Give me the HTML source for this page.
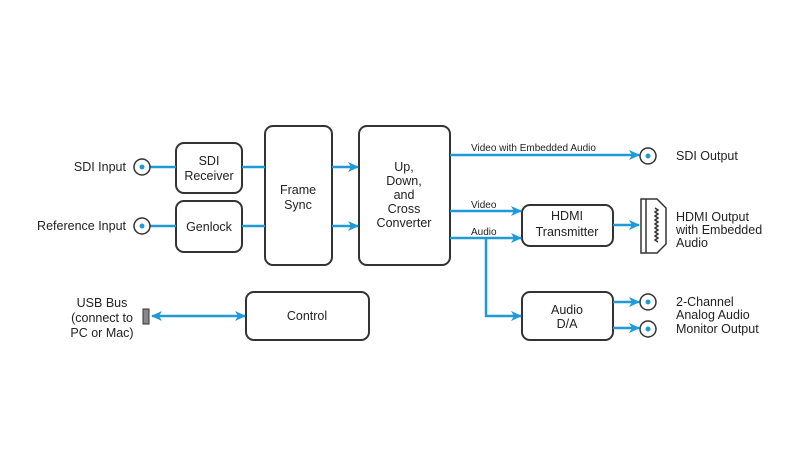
<!DOCTYPE html>
<html><head><style>body{margin:0;background:#fff}svg{display:block}text{font-family:"Liberation Sans",Arial,sans-serif;fill:#222}</style></head><body>
<svg width="800" height="450" viewBox="0 0 800 450">
<defs><marker id="a" markerWidth="11" markerHeight="10" refX="10" refY="5" orient="auto" markerUnits="userSpaceOnUse"><path d="M0,0 L11,5 L0,10 L3,5Z" fill="#1f9ad6"/></marker>
<marker id="b" markerWidth="11" markerHeight="10" refX="1" refY="5" orient="auto" markerUnits="userSpaceOnUse"><path d="M11,0 L0,5 L11,10 L8,5Z" fill="#1f9ad6"/></marker></defs>
<g fill="none" stroke="#333" stroke-width="2">
<rect x="176" y="143" width="66" height="50" rx="8"/>
<rect x="176" y="201" width="66" height="51" rx="8"/>
<rect x="265" y="126" width="67" height="139" rx="8"/>
<rect x="359" y="126" width="91" height="139" rx="8"/>
<rect x="246" y="292" width="123" height="48" rx="8"/>
<rect x="522" y="205" width="91" height="41" rx="8"/>
<rect x="522" y="292" width="91" height="48" rx="8"/>
</g>
<g stroke="#1f9ad6" stroke-width="2.5" fill="none">
<line x1="150" y1="167" x2="176" y2="167"/><line x1="242" y1="167" x2="265" y2="167"/>
<line x1="150" y1="226" x2="176" y2="226"/><line x1="242" y1="226" x2="265" y2="226"/>
<line x1="332" y1="167" x2="358" y2="167" marker-end="url(#a)"/>
<line x1="332" y1="226" x2="358" y2="226" marker-end="url(#a)"/>
<line x1="450" y1="155" x2="639" y2="155" marker-end="url(#a)"/>
<line x1="450" y1="211" x2="521" y2="211" marker-end="url(#a)"/>
<line x1="450" y1="238" x2="521" y2="238" marker-end="url(#a)"/>
<polyline points="486,238 486,316 521,316" marker-end="url(#a)"/>
<line x1="613" y1="225" x2="639" y2="225" marker-end="url(#a)"/>
<line x1="613" y1="302" x2="639" y2="302" marker-end="url(#a)"/>
<line x1="613" y1="328" x2="639" y2="328" marker-end="url(#a)"/>
<line x1="152" y1="316" x2="245" y2="316" marker-start="url(#b)" marker-end="url(#a)"/>
</g>
<g stroke="#333" stroke-width="1.5" fill="#fff">
<circle cx="142" cy="167" r="8"/><circle cx="142" cy="226" r="8"/>
<circle cx="648" cy="156" r="8"/><circle cx="648" cy="302" r="8"/><circle cx="648" cy="329" r="8"/>
</g>
<g fill="#1f9ad6"><circle cx="142" cy="167" r="2.5"/><circle cx="142" cy="226" r="2.5"/><circle cx="648" cy="156" r="2.5"/><circle cx="648" cy="302" r="2.5"/><circle cx="648" cy="329" r="2.5"/></g>
<rect x="143" y="309" width="6" height="15" fill="#888" stroke="#333" stroke-width="1"/>
<g fill="none" stroke="#333" stroke-width="1.5">
<path d="M641,199 L657,199 L666,208 L666,244 L657,253 L641,253 Z"/><line x1="646" y1="199" x2="646" y2="253"/>
<path d="M655,208 l3,2 l-3,2 l3,2 l-3,2 l3,2 l-3,2 l3,2 l-3,2 l3,2 l-3,2 l3,2 l-3,2 l3,2 l-3,2 l3,2 l-3,2 l3,2"/>
</g>
<g font-size="12.5" text-anchor="middle">
<text x="209" y="165">SDI</text><text x="209" y="180">Receiver</text>
<text x="209" y="231">Genlock</text>
<text x="298" y="194">Frame</text><text x="298" y="209">Sync</text>
<text x="404" y="171">Up,</text><text x="404" y="185">Down,</text><text x="404" y="199">and</text><text x="404" y="213">Cross</text><text x="404" y="227">Converter</text>
<text x="307" y="320">Control</text>
<text x="567" y="220">HDMI</text><text x="567" y="236">Transmitter</text>
<text x="567" y="314">Audio</text><text x="567" y="328">D/A</text>
<text x="102" y="307">USB Bus</text><text x="102" y="322">(connect to</text><text x="102" y="337">PC or Mac)</text>
</g>
<g font-size="12.5" text-anchor="end"><text x="126" y="171">SDI Input</text><text x="126" y="230">Reference Input</text></g>
<g font-size="12.5"><text x="676" y="160">SDI Output</text>
<text x="676" y="221">HDMI Output</text><text x="676" y="234">with Embedded</text><text x="676" y="247">Audio</text>
<text x="676" y="306">2-Channel</text><text x="676" y="319">Analog Audio</text><text x="676" y="333">Monitor Output</text></g>
<g font-size="10"><text x="471" y="151">Video with Embedded Audio</text><text x="471" y="208">Video</text><text x="471" y="235">Audio</text></g>
</svg></body></html>
